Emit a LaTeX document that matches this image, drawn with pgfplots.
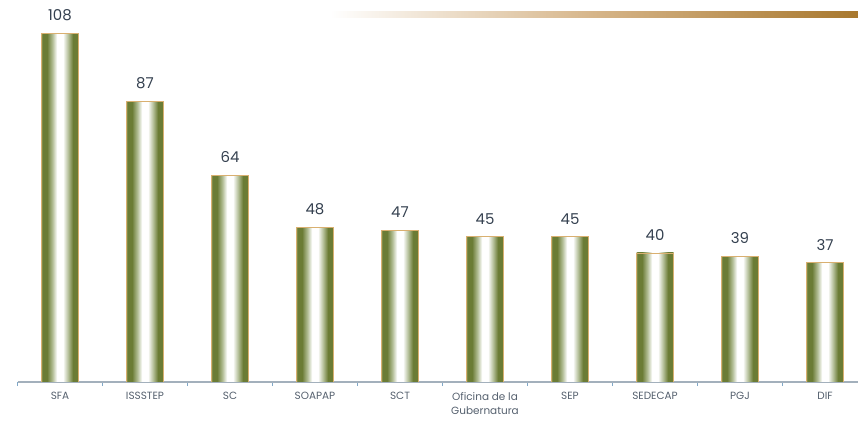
\documentclass[border=0pt]{standalone}
\usepackage{pgfplots}
\pgfplotsset{compat=1.18}
\usepackage{fontspec}
\setmainfont{Poppins}
\definecolor{valcol}{HTML}{34404F}
\definecolor{labcol}{HTML}{55606E}
\definecolor{axcol}{HTML}{A3B0BC}
\definecolor{tickcol}{HTML}{80A8C8}
\definecolor{bordcol}{HTML}{D9B070}
\definecolor{goldR}{HTML}{A8782E}
\definecolor{goldM}{HTML}{D6B589}
\definecolor{olE}{HTML}{8A9450}
\definecolor{olD}{HTML}{6B7C35}
\definecolor{olL}{HTML}{B4BF98}
\pgfdeclarehorizontalshading{barshade}{100bp}{color(0bp)=(olE); color(25bp)=(olE); color(27bp)=(olD); color(32.5bp)=(olD); color(40bp)=(olL); color(46bp)=(white); color(54bp)=(white); color(61bp)=(olL); color(67.5bp)=(olD); color(73bp)=(olD); color(75bp)=(olE); color(100bp)=(olE)}
\begin{document}
\begin{tikzpicture}
\useasboundingbox (0,0) rectangle (858bp,422bp);
\clip (0,0) rectangle (858bp,422bp);
\shade[left color=white, right color=goldR, middle color=goldM] (330bp,404bp) rectangle (858bp,410bp);
\begin{axis}[
  at={(17.5bp,40bp)}, anchor=south west,
  width=850bp, height=381bp, scale only axis,
  xmin=-0.5, xmax=9.5, ymin=0, ymax=118,
  axis x line*=bottom, axis y line=none,
  axis line style={draw=axcol, line width=1.6bp},
  xtick={0,...,9},
  xticklabels={SFA,ISSSTEP,SC,SOAPAP,SCT,{Oficina de la\\Gubernatura},SEP,SEDECAP,PGJ,DIF},
  xticklabel style={align=center, font=\fontsize{10.5}{14}\selectfont, text=labcol, yshift=-7bp},
  major tick length=0pt,
  minor xtick={-0.5,0.5,...,9.5},
  minor tick length=4bp,
  tick align=outside,
  minor tick style={draw=tickcol, line width=1bp},
  /pgf/number format/assume math mode=true,
  mybar/.style={ybar, bar width=37bp, bar shift=0pt, draw=bordcol, line width=0.5bp, shading=barshade,
    nodes near coords,
    every node near coord/.append style={font=\fontsize{15}{18}\selectfont, text=valcol, anchor=center, yshift=18bp}},
]
\addplot[mybar] coordinates {(0,108)};
\addplot[mybar] coordinates {(1,87)};
\addplot[mybar] coordinates {(2,64)};
\addplot[mybar] coordinates {(3,48)};
\addplot[mybar] coordinates {(4,47)};
\addplot[mybar] coordinates {(5,45)};
\addplot[mybar] coordinates {(6,45)};
\addplot[mybar] coordinates {(7,40)};
\addplot[mybar] coordinates {(8,39)};
\addplot[mybar] coordinates {(9,37)};
\end{axis}
\end{tikzpicture}
\end{document}
